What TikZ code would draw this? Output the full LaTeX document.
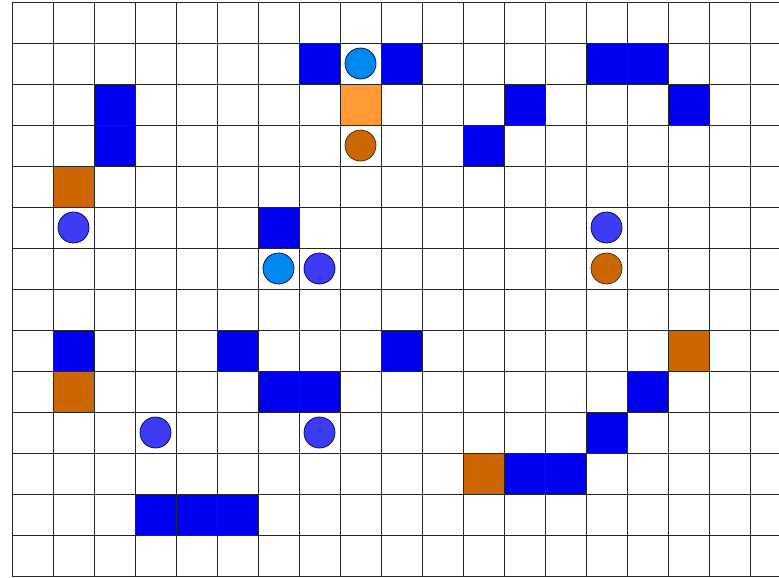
\documentclass[tikz,border=0pt]{standalone}
\definecolor{sqblue}{RGB}{0,0,240}
\definecolor{sqbrown}{RGB}{204,102,0}
\definecolor{sqorange}{RGB}{255,153,51}
\definecolor{cirlight}{RGB}{0,136,238}
\definecolor{cirmid}{RGB}{60,60,245}
\definecolor{cirbrown}{RGB}{204,102,0}
\tikzset{
  gridline/.style={draw=black!85, line width=0.9pt},
  ball/.style={line width=0.7pt, draw=black!70!blue}
}
\begin{document}
\begin{tikzpicture}[x=1pt,y=-1pt]
\useasboundingbox (0,0) rectangle (779,578);
\fill[white] (0,0) rectangle (779,578);
% blue squares (col,row)
\foreach \c/\r in {7/1,9/1,14/1,15/1, 2/2,12/2,16/2, 2/3,11/3, 6/5, 1/8,5/8,9/8, 6/9,7/9,15/9, 14/10, 12/11,13/11, 3/12,4/12,5/12}
  \fill[sqblue] ({12+41*\c},{2+41*\r}) rectangle ++(41,41);
\foreach \c/\r in {1/4,16/8,1/9,11/11}
  \fill[sqbrown] ({12+41*\c},{2+41*\r}) rectangle ++(41,41);
\fill[sqorange] ({12+41*8},{2+41*2}) rectangle ++(41,41);
% grid
\foreach \k in {0,...,14}
  \draw[gridline] (12,{2+41*\k}) -- (779,{2+41*\k});
\foreach \k in {0,...,18}
  \draw[gridline] ({12+41*\k},2) -- ({12+41*\k},576);
% circles
\foreach \c/\r in {8/1,6/6}
  \filldraw[ball, fill=cirlight] ({12+41*\c+20.5},{2+41*\r+20.5}) circle (15.5);
\foreach \c/\r in {1/5,7/6,14/5,3/10,7/10}
  \filldraw[ball, fill=cirmid] ({12+41*\c+20.5},{2+41*\r+20.5}) circle (15.5);
\foreach \c/\r in {8/3,14/6}
  \filldraw[ball, fill=cirbrown, draw=black!70!brown] ({12+41*\c+20.5},{2+41*\r+20.5}) circle (15.5);
\end{tikzpicture}
\end{document}
